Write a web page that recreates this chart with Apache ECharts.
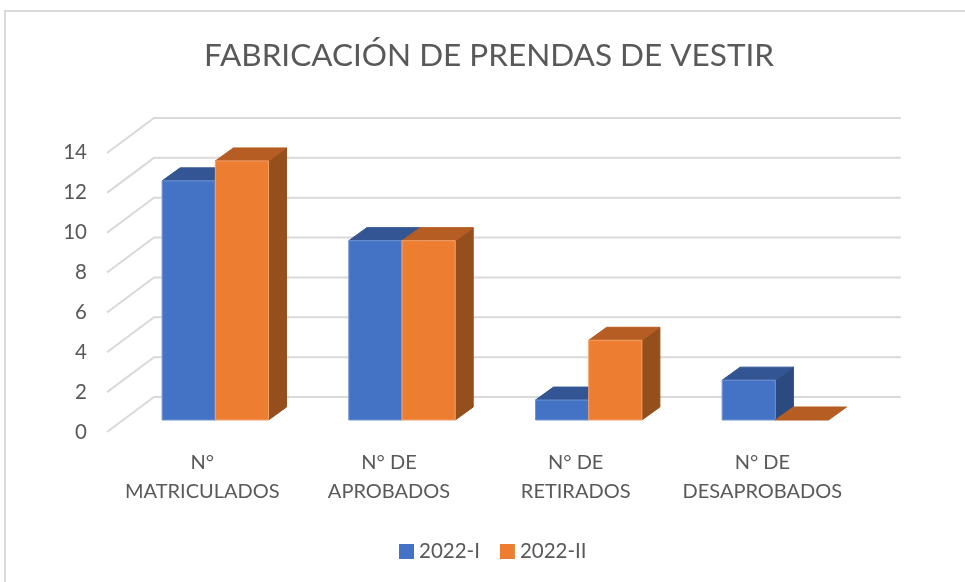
<!DOCTYPE html>
<html><head><meta charset="utf-8">
<style>html,body{margin:0;padding:0;background:#fff}#c{width:965px;height:582px}</style>
<script src="https://cdn.jsdelivr.net/npm/echarts@6/dist/echarts.min.js"></script>
</head><body><div id="c"></div>
<script>
const titleText = 'FABRICACIÓN DE PRENDAS DE VESTIR';
const categories = ['N°\nMATRICULADOS', 'N° DE\nAPROBADOS', 'N° DE\nRETIRADOS', 'N° DE\nDESAPROBADOS'];
const seriesNames = ['2022-I', '2022-II'];
const values2022I = [12, 9, 1, 2];
const values2022II = [13, 9, 4, 0];
const yTicks = [0, 2, 4, 6, 8, 10, 12, 14];

const FONT = 'Lato, "Open Sans", sans-serif';
const TEXT = '#595959';
const BAR_DX = 18, BAR_DY = 13;
const WALL = { frontX: -15, backX: 32, frontY: 12, backY: -23 };
const palettes = [
  { front: '#4472C4', top: '#335593', side: '#2B4A80', edge: '#6f93d3' },
  { front: '#ED7D31', top: '#B55D23', side: '#954F1C', edge: '#f4a26c' }
];

function barRenderer(idx) {
  const pal = palettes[idx];
  return function (params, api) {
    const base = api.coord([api.value(0), 0]);
    const top = api.coord([api.value(0), api.value(1)]);
    const w = api.size([1, 0])[0] * 0.285;
    const x0 = base[0] + (idx - 1) * w, x1 = x0 + w;
    const yT = top[1], yB = base[1];
    const poly = (pts, fill, stroke) => ({
      type: 'polygon', shape: { points: pts },
      style: { fill: fill, stroke: stroke || fill, lineWidth: 1 }
    });
    const faces = [poly([[x0, yT], [x1, yT], [x1 + BAR_DX, yT - BAR_DY], [x0 + BAR_DX, yT - BAR_DY]], pal.top)];
    if (yB > yT) {
      faces.unshift(poly([[x1, yB], [x1 + BAR_DX, yB - BAR_DY], [x1 + BAR_DX, yT - BAR_DY], [x1, yT]], pal.side));
      faces.push(poly([[x0, yB], [x1, yB], [x1, yT], [x0, yT]], pal.front, pal.edge));
    }
    return { type: 'group', children: faces };
  };
}

function gridRenderer(params, api) {
  const cs = params.coordSys;
  const y = api.coord([0, api.value(0)])[1];
  return {
    type: 'polyline',
    shape: { points: [
      [cs.x + WALL.frontX, y + WALL.frontY],
      [cs.x + WALL.backX, y + WALL.backY],
      [cs.x + cs.width + WALL.backX, y + WALL.backY]
    ] },
    style: { fill: null, stroke: '#d9d9d9', lineWidth: 2 }
  };
}

const chart = echarts.init(document.getElementById('c'), null, { renderer: 'canvas' });
chart.setOption({
  animation: false,
  backgroundColor: '#fff',
  title: {
    text: titleText, left: 489, top: 40, textAlign: 'center', padding: 0,
    textStyle: { fontFamily: FONT, fontSize: 31.5, fontWeight: 'normal', color: TEXT }
  },
  graphic: [
    { type: 'polyline', shape: { points: [[5, 582], [5, 11], [965, 11]] },
      style: { fill: null, stroke: '#d9d9d9', lineWidth: 2 }, silent: true }
  ],
  legend: {
    data: seriesNames.map(n => ({ name: n, icon: 'rect' })),
    left: 399, top: 541, padding: 0, itemWidth: 15, itemHeight: 15, itemGap: 20,
    textStyle: { fontFamily: FONT, fontSize: 20.5, color: TEXT },
    selectedMode: false
  },
  grid: [
    { left: 122, width: 746.7, top: 141, height: 279 },
    { left: 122, width: 746.7, top: 152, height: 280 }
  ],
  xAxis: [
    {
      type: 'category', data: categories, gridIndex: 0,
      axisLine: { show: false }, axisTick: { show: false },
      axisLabel: { interval: 0, fontFamily: FONT, fontSize: 20, color: TEXT, lineHeight: 29, margin: 28, padding: [0, 26, 0, 0] }
    },
    { type: 'category', data: categories, gridIndex: 1, show: false }
  ],
  yAxis: [
    {
      type: 'value', min: 0, max: 14, interval: 2, gridIndex: 0,
      axisLine: { show: false }, axisTick: { show: false }, splitLine: { show: false }, axisLabel: { show: false }
    },
    {
      type: 'value', min: 0, max: 14, interval: 2, gridIndex: 1,
      axisLine: { show: false }, axisTick: { show: false }, splitLine: { show: false },
      axisLabel: { fontFamily: FONT, fontSize: 20.5, color: TEXT, margin: 35 }
    }
  ],
  series: [
    { type: 'custom', name: 'gridlines', data: yTicks.map(v => [v]), renderItem: gridRenderer,
      encode: { y: 0 }, silent: true, z: 1 },
    { type: 'custom', name: seriesNames[0], data: values2022I.map((v, i) => [i, v]),
      renderItem: barRenderer(0), encode: { x: 0, y: 1 }, itemStyle: { color: palettes[0].front }, z: 2 },
    { type: 'custom', name: seriesNames[1], data: values2022II.map((v, i) => [i, v]),
      renderItem: barRenderer(1), encode: { x: 0, y: 1 }, itemStyle: { color: palettes[1].front }, z: 3 }
  ]
});
</script></body></html>
